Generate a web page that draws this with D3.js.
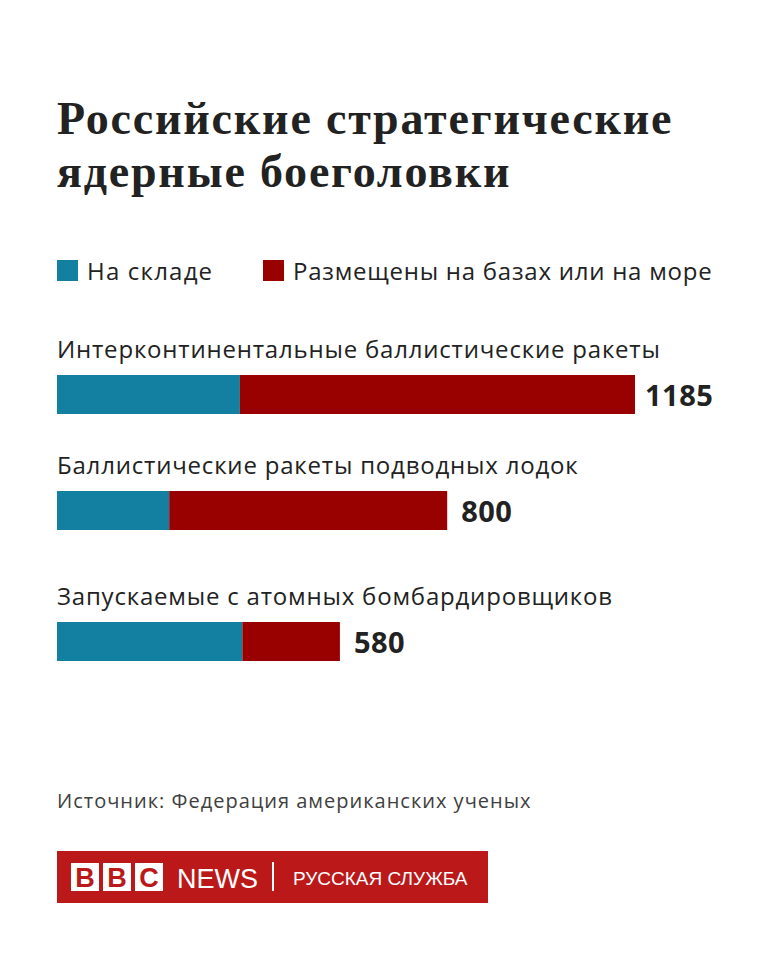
<!DOCTYPE html>
<html>
<head>
<meta charset="utf-8">
<script src="https://cdn.jsdelivr.net/npm/d3@7"></script>
<style>
  body { margin: 0; background: #fff; }
  svg { display: block; }
</style>
</head>
<body>
<svg id="chart"></svg>
<script>
const categories = [
  "Интерконтинентальные баллистические ракеты",
  "Баллистические ракеты подводных лодок",
  "Запускаемые с атомных бомбардировщиков"
];
const stored = [375, 230, 380];
const deployed = [810, 570, 200];
const totals = [1185, 800, 580];
const seriesNames = ["На складе", "Размещены на базах или на море"];
const colors = ["#1380a1", "#990000"];

const width = 768, height = 960;
const svg = d3.select("#chart").attr("width", width).attr("height", height);

const sans = "'Open Sans', 'Noto Sans', sans-serif";
const ink = "#222222";

// title, two lines
svg.selectAll(".title")
    .data(["Российские стратегические", "ядерные боеголовки"])
    .enter().append("text")
    .attr("x", 57)
    .attr("y", (d, i) => 134 + i * 53)
    .attr("font-family", "'Liberation Serif', serif")
    .attr("font-weight", "bold")
    .attr("font-size", 46)
    .attr("letter-spacing", 1.8)
    .attr("fill", ink)
    .text(d => d);

// legend
const legend = svg.selectAll(".legend")
    .data(seriesNames)
    .enter().append("g")
    .attr("transform", (d, i) => "translate(" + [57, 263][i] + ",260)");
legend.append("rect")
    .attr("width", 21).attr("height", 21)
    .attr("fill", (d, i) => colors[i]);
legend.append("text")
    .attr("x", 30).attr("y", 20)
    .attr("font-family", sans)
    .attr("font-size", 24)
    .attr("letter-spacing", (d, i) => i ? 0.75 : 1.2)
    .attr("fill", ink)
    .text(d => d);

// bars
const x = d3.scaleLinear().domain([0, 1185]).range([57, 635]);
const y = d3.scaleOrdinal().domain(categories).range([375, 491, 622]);
const barH = 39;

const rows = categories.map((c, i) => ({cat: c, stored: stored[i], deployed: deployed[i], total: totals[i]}));
const stack = d3.stack().keys(["stored", "deployed"])(rows);

svg.selectAll(".series")
    .data(stack)
    .enter().append("g")
    .attr("fill", (d, i) => colors[i])
    .selectAll("rect")
    .data(d => d)
    .enter().append("rect")
    .attr("x", d => x(d[0]))
    .attr("y", d => y(d.data.cat))
    .attr("width", d => x(d[1]) - x(d[0]))
    .attr("height", barH);

svg.selectAll(".cat")
    .data(rows)
    .enter().append("text")
    .attr("x", 57)
    .attr("y", d => y(d.cat) - 17)
    .attr("font-family", sans)
    .attr("font-size", 24)
    .attr("letter-spacing", 0.8)
    .attr("fill", ink)
    .text(d => d.cat);

svg.selectAll(".val")
    .data(rows)
    .enter().append("text")
    .attr("x", d => x(d.total) + (d.total > 1000 ? 10 : 14))
    .attr("y", d => y(d.cat) + 31)
    .attr("font-family", sans)
    .attr("font-weight", "bold")
    .attr("font-size", 29)
    .attr("letter-spacing", 0.5)
    .attr("fill", ink)
    .text(d => d.total);

// source
svg.append("text")
    .attr("x", 57).attr("y", 808)
    .attr("font-family", sans)
    .attr("font-size", 20)
    .attr("letter-spacing", 1)
    .attr("fill", "#404040")
    .text("Источник: Федерация американских ученых");

// BBC logo
const logo = svg.append("g").attr("transform", "translate(57,851)");
logo.append("rect").attr("width", 431).attr("height", 52).attr("fill", "#bb1919");
logo.selectAll(".blk")
    .data(["B", "B", "C"])
    .enter().append("g")
    .attr("transform", (d, i) => "translate(" + (14 + i * 32) + ",12)")
    .each(function(d) {
      const g = d3.select(this);
      g.append("rect").attr("width", 28).attr("height", 28).attr("fill", "#fff");
      g.append("text").attr("x", 14).attr("y", 24)
        .attr("text-anchor", "middle")
        .attr("font-family", "'Liberation Sans', sans-serif")
        .attr("font-weight", "bold")
        .attr("font-size", 27)
        .attr("fill", "#bb1919")
        .text(d);
    });
logo.append("text")
    .attr("x", 120).attr("y", 37)
    .attr("font-family", "'Liberation Sans', sans-serif")
    .attr("font-size", 27)
    .attr("fill", "#fff")
    .text("NEWS");
logo.append("rect").attr("x", 215).attr("y", 11).attr("width", 2).attr("height", 29).attr("fill", "#fff");
logo.append("text")
    .attr("x", 236).attr("y", 34)
    .attr("font-family", "'Liberation Sans', sans-serif")
    .attr("font-size", 19)
    .attr("fill", "#fff")
    .text("РУССКАЯ СЛУЖБА");
</script>
</body>
</html>
